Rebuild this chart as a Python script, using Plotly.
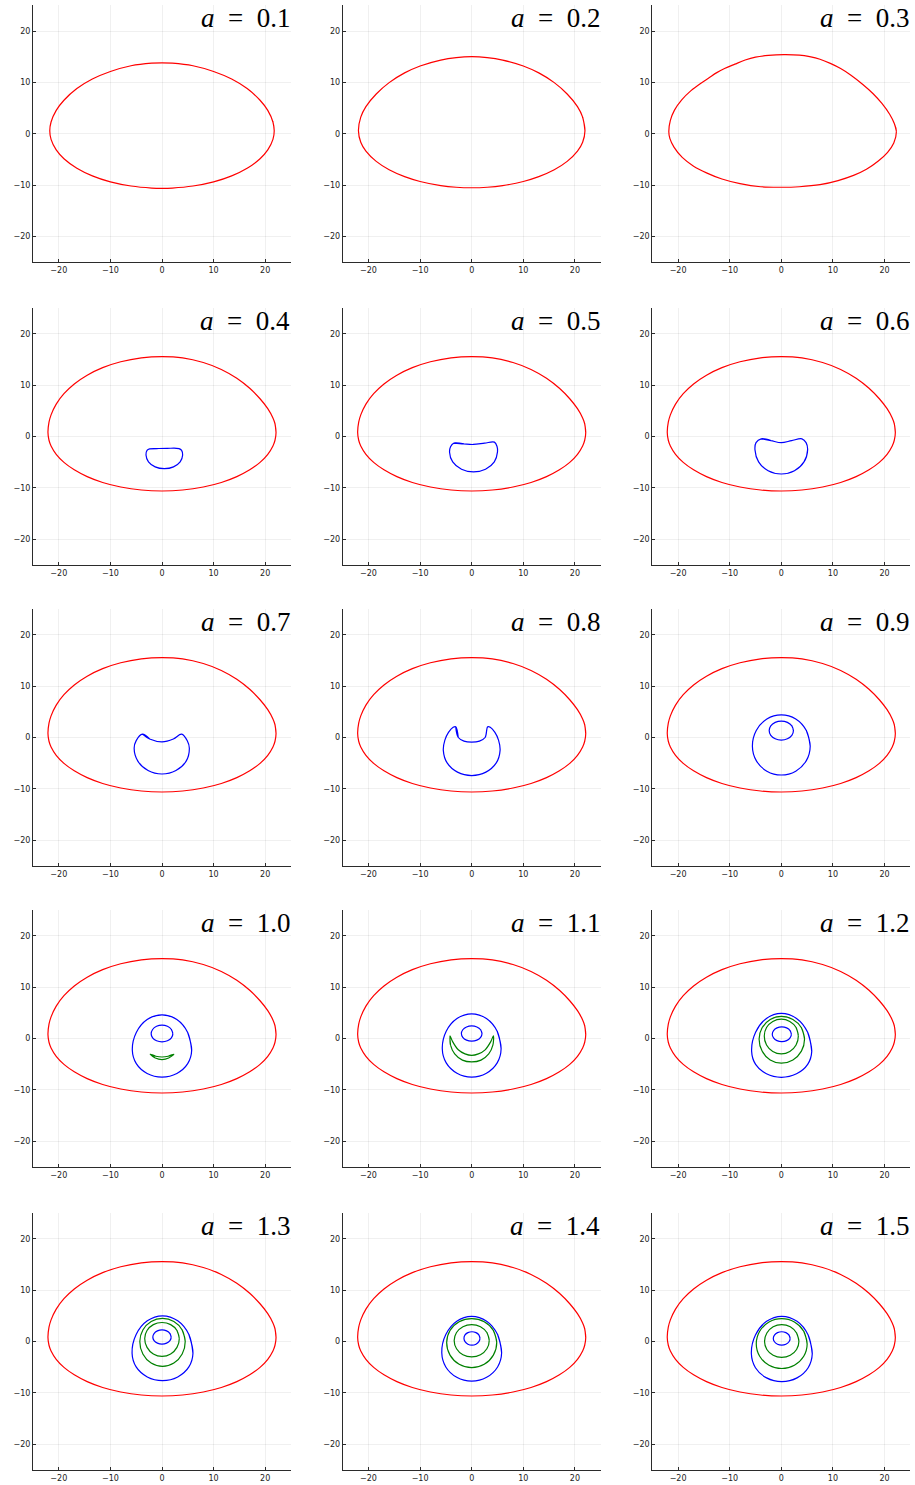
import plotly.graph_objects as go

# ---- values read per panel: closed curves as (x, y) point lists ----
A_VALUES = [0.1, 0.2, 0.3, 0.4, 0.5, 0.6, 0.7, 0.8, 0.9, 1.0, 1.1, 1.2, 1.3, 1.4, 1.5]
TICKS = [-20, -10, 0, 10, 20]

RED_A01 = [(21.75, 0.6), (21.5, 2.3), (20.5, 4.56), (19.0, 6.53), (16.5, 8.8), (13.5, 10.65),
           (10.0, 12.12), (6.0, 13.24), (2.0, 13.74), (0.0, 13.8), (-2.0, 13.74), (-6.0, 13.24),
           (-10.0, 12.12), (-13.5, 10.65), (-16.5, 8.8), (-19.0, 6.53), (-20.5, 4.56),
           (-21.5, 2.3), (-21.75, 0.6), (-21.5, -1.09), (-20.5, -3.14), (-19.0, -4.85),
           (-16.5, -6.7), (-13.5, -8.18), (-10.0, -9.35), (-6.0, -10.16), (-2.0, -10.55),
           (0.0, -10.6), (2.0, -10.55), (6.0, -10.16), (10.0, -9.35), (13.5, -8.18),
           (16.5, -6.7), (19.0, -4.85), (20.5, -3.14), (21.5, -1.09), (21.75, 0.6)]

RED_A02 = [(21.95, 0.6), (21.5, 3.25), (20.5, 5.3), (18.5, 7.75), (16.0, 9.96), (13.0, 11.85),
           (10.0, 13.2), (6.0, 14.35), (3.0, 14.83), (0.0, 15.0), (-3.0, 14.83), (-6.0, 14.35),
           (-10.0, 13.2), (-13.0, 11.85), (-16.0, 9.96), (-18.5, 7.75), (-20.5, 5.3),
           (-21.5, 3.25), (-21.95, 0.6), (-21.5, -1.64), (-20.5, -3.37), (-18.5, -5.37),
           (-16.0, -7.0), (-13.0, -8.34), (-10.0, -9.28), (-6.0, -10.08), (-3.0, -10.4),
           (0.0, -10.5), (3.0, -10.4), (6.0, -10.08), (10.0, -9.28), (13.0, -8.34),
           (16.0, -7.0), (18.5, -5.37), (20.5, -3.37), (21.5, -1.64), (21.95, 0.6)]

RED_A03 = [(22.3, 0.5), (21.9, 2.0), (21.0, 3.8), (19.5, 5.9), (17.8, 7.8), (15.8, 9.6),
           (13.5, 11.4), (11.5, 12.7), (9.5, 13.7), (7.5, 14.5), (5.5, 15.0), (3.5, 15.3),
           (0.5, 15.4), (-2.5, 15.25), (-5.0, 14.9), (-7.0, 14.35), (-9.0, 13.55), (-11.0, 12.7),
           (-12.5, 11.9), (-14.0, 10.9), (-15.5, 9.9), (-17.5, 8.4), (-19.3, 6.6), (-20.7, 4.6),
           (-21.5, 2.6), (-21.8, 0.45), (-21.6, -0.9), (-20.8, -2.6), (-19.2, -4.6), (-17.0, -6.3),
           (-14.5, -7.6), (-11.5, -8.8), (-8.0, -9.7), (-4.0, -10.3), (0.0, -10.4), (3.5, -10.3),
           (7.5, -9.9), (11.0, -9.1), (14.0, -8.1), (16.5, -6.9), (18.8, -5.3), (20.6, -3.6),
           (21.8, -1.8), (22.3, 0.5)]

RED_MAIN = [(22.1, 0.8), (21.9, 2.48), (21.5, 3.61), (20.5, 5.41), (19.0, 7.34), (17.0, 9.38),
            (14.5, 11.33), (11.5, 13.05), (8.0, 14.4), (4.0, 15.31), (0.0, 15.55), (-4.0, 15.31),
            (-8.0, 14.55), (-11.5, 13.4), (-14.5, 11.93), (-17.0, 10.23), (-19.0, 8.34),
            (-20.5, 6.31), (-21.5, 4.21), (-21.9, 2.78), (-22.1, 0.8), (-21.9, -0.73),
            (-21.5, -1.84), (-20.5, -3.46), (-19.0, -5.03), (-17.0, -6.48), (-14.5, -7.8),
            (-11.5, -8.94), (-8.0, -9.82), (-4.0, -10.41), (0.0, -10.6), (4.0, -10.41),
            (8.0, -9.82), (11.5, -8.94), (14.5, -7.8), (17.0, -6.48), (19.0, -5.03),
            (20.5, -3.46), (21.5, -1.84), (21.9, -0.73), (22.1, 0.8)]

BLUE_A04 = [(-2.4, -2.4), (-1.0, -2.35), (1.0, -2.3), (3.3, -2.35), (3.8, -2.7), (4.0, -3.6),
            (3.52, -4.93), (2.23, -5.9), (0.45, -6.25), (-1.33, -5.9), (-2.62, -4.93),
            (-3.1, -3.6), (-2.9, -2.7), (-2.4, -2.4)]

BLUE_A05 = [(-3.5, -1.3), (-1.5, -1.45), (0.3, -1.55), (2.5, -1.3), (4.4, -1.1), (4.9, -1.9),
            (5.0, -3.0), (4.38, -4.95), (2.68, -6.38), (0.35, -6.9), (-1.98, -6.38),
            (-3.68, -4.95), (-4.3, -3.0), (-4.1, -2.0), (-3.5, -1.3)]

BLUE_A06 = [(-3.9, -0.45), (-2.0, -0.8), (0.0, -1.2), (2.0, -0.8), (4.0, -0.45), (4.8, -1.2),
            (5.1, -2.6), (4.4, -4.95), (2.55, -6.67), (0.0, -7.3), (-2.55, -6.67), (-4.4, -4.95),
            (-5.1, -2.6), (-4.9, -1.2), (-3.9, -0.45)]

BLUE_A07 = [(-3.8, 0.65), (-2.4, -0.3), (0.0, -0.85), (2.2, -0.3), (3.8, 0.65), (4.9, -0.65),
            (5.3, -2.1), (4.68, -4.6), (2.7, -6.43), (0.0, -7.1), (-2.7, -6.43), (-4.68, -4.6),
            (-5.4, -2.1), (-5.0, -0.6), (-3.8, 0.65)]

BLUE_A08 = [(-3.1, 2.1), (-2.6, 0.0), (-1.5, -0.7), (0.0, -0.9), (1.5, -0.7), (2.6, 0.0),
            (3.1, 2.1), (3.6, 2.0), (4.5, 1.0), (5.2, -0.5), (5.5, -2.5), (4.76, -4.95),
            (2.75, -6.74), (0.0, -7.4), (-2.75, -6.74), (-4.76, -4.95), (-5.5, -2.5),
            (-5.2, -0.5), (-4.5, 1.0), (-3.6, 2.0), (-3.1, 2.1)]

BLUE_A09_OUT = [(5.6, -1.7), (4.85, 1.35), (2.8, 3.6), (0.0, 4.4), (-2.8, 3.6), (-4.85, 1.35),
                (-5.6, -1.7), (-4.85, -4.5), (-2.8, -6.55), (0.0, -7.3), (2.8, -6.55),
                (4.85, -4.5), (5.6, -1.7)]
BLUE_A09_IN = [(2.35, 1.35), (2.04, 2.28), (1.18, 2.95), (0.0, 3.2), (-1.18, 2.95),
               (-2.04, 2.28), (-2.35, 1.35), (-2.04, 0.42), (-1.18, -0.25), (0.0, -0.5),
               (1.18, -0.25), (2.04, 0.42), (2.35, 1.35)]

BLUE_A10_OUT = [(5.75, -2.3), (4.98, 1.15), (2.88, 3.68), (0.0, 4.6), (-2.88, 3.68),
                (-4.98, 1.15), (-5.75, -2.3), (-4.98, -4.9), (-2.88, -6.8), (0.0, -7.5),
                (2.88, -6.8), (4.98, -4.9), (5.75, -2.3)]
BLUE_A10_IN = [(2.1, 0.9), (1.82, 1.75), (1.05, 2.37), (0.0, 2.6), (-1.05, 2.37), (-1.82, 1.75),
               (-2.1, 0.9), (-1.82, 0.13), (-1.05, -0.44), (0.0, -0.65), (1.05, -0.44),
               (1.82, 0.13), (2.1, 0.9)]
GREEN_A10 = [(-2.3, -3.05), (-1.3, -3.8), (0.0, -4.1), (1.3, -3.8), (2.3, -3.05), (1.2, -3.45),
             (0.0, -3.6), (-1.2, -3.45), (-2.3, -3.05)]

BLUE_A11_OUT = [(5.7, -2.0), (4.94, 1.4), (2.85, 3.89), (0.0, 4.8), (-2.85, 3.89), (-4.94, 1.4),
                (-5.7, -2.0), (-4.94, -4.75), (-2.85, -6.76), (0.0, -7.5), (2.85, -6.76),
                (4.94, -4.75), (5.7, -2.0)]
BLUE_A11_IN = [(2.0, 0.95), (1.73, 1.7), (1.0, 2.25), (0.0, 2.45), (-1.0, 2.25), (-1.73, 1.7),
               (-2.0, 0.95), (-1.73, 0.23), (-1.0, -0.31), (0.0, -0.5), (1.0, -0.31),
               (1.73, 0.23), (2.0, 0.95)]
GREEN_A11 = [(-4.2, 0.5), (-4.1, -1.3), (-3.3, -3.0), (-1.8, -4.2), (0.0, -4.55), (1.8, -4.2),
             (3.3, -3.0), (4.1, -1.3), (4.2, 0.5), (3.7, -0.6), (2.6, -2.2), (1.3, -3.0),
             (0.0, -3.3), (-1.3, -3.0), (-2.6, -2.2), (-3.7, -0.6), (-4.2, 0.5)]

BLUE_A12_OUT = [(5.9, -2.5), (5.11, 1.2), (2.95, 3.91), (0.0, 4.9), (-2.88, 3.91), (-4.98, 1.2),
                (-5.75, -2.5), (-4.98, -5.03), (-2.88, -6.87), (0.0, -7.55), (2.95, -6.87),
                (5.11, -5.03), (5.9, -2.5)]
GREEN_A12_OUT = [(4.5, -0.1), (3.9, 2.1), (2.25, 3.71), (0.0, 4.3), (-2.15, 3.71), (-3.72, 2.1),
                 (-4.3, -0.1), (-3.72, -2.45), (-2.15, -4.17), (0.0, -4.8), (2.25, -4.17),
                 (3.9, -2.45), (4.5, -0.1)]
GREEN_A12_IN = [(3.3, 0.5), (2.86, 2.13), (1.65, 3.31), (0.0, 3.75), (-1.65, 3.31), (-2.86, 2.13),
                (-3.3, 0.5), (-2.86, -1.25), (-1.65, -2.53), (0.0, -3.0), (1.65, -2.53),
                (2.86, -1.25), (3.3, 0.5)]
BLUE_A12_IN = [(1.95, 0.85), (1.7, 1.55), (1.03, 2.06), (0.1, 2.25), (-0.83, 2.06), (-1.5, 1.55),
               (-1.75, 0.85), (-1.5, 0.13), (-0.83, -0.41), (0.1, -0.6), (1.03, -0.41),
               (1.7, 0.13), (1.95, 0.85)]

BLUE_A13_OUT = [(6.0, -2.3), (5.21, 1.35), (3.05, 4.02), (0.1, 5.0), (-2.85, 4.02), (-5.01, 1.35),
                (-5.8, -2.3), (-5.01, -4.95), (-2.85, -6.89), (0.1, -7.6), (3.05, -6.89),
                (5.21, -4.95), (6.0, -2.3)]
GREEN_A13_OUT = [(4.5, 0.0), (3.91, 2.25), (2.3, 3.9), (0.1, 4.5), (-2.1, 3.9), (-3.71, 2.25),
                 (-4.3, 0.0), (-3.71, -2.43), (-2.1, -4.2), (0.1, -4.85), (2.3, -4.2),
                 (3.91, -2.43), (4.5, 0.0)]
GREEN_A13_IN = [(3.35, 0.6), (2.9, 2.15), (1.68, 3.28), (0.0, 3.7), (-1.68, 3.28), (-2.9, 2.15),
                (-3.35, 0.6), (-2.9, -1.15), (-1.68, -2.43), (0.0, -2.9), (1.68, -2.43),
                (2.9, -1.15), (3.35, 0.6)]
BLUE_A13_IN = [(1.78, 0.85), (1.54, 1.55), (0.89, 2.06), (0.0, 2.25), (-0.89, 2.06),
               (-1.54, 1.55), (-1.78, 0.85), (-1.54, 0.18), (-0.89, -0.32), (0.0, -0.5),
               (0.89, -0.32), (1.54, 0.18), (1.78, 0.85)]

BLUE_A14_OUT = [(5.8, -2.2), (5.02, 1.35), (2.9, 3.95), (0.0, 4.9), (-2.9, 3.95), (-5.02, 1.35),
                (-5.8, -2.2), (-5.02, -4.95), (-2.9, -6.96), (0.0, -7.7), (2.9, -6.96),
                (5.02, -4.95), (5.8, -2.2)]
GREEN_A14_OUT = [(4.85, -0.2), (4.2, 2.13), (2.43, 3.83), (0.0, 4.45), (-2.43, 3.83),
                 (-4.2, 2.13), (-4.85, -0.2), (-4.2, -2.65), (-2.43, -4.44), (0.0, -5.1),
                 (2.43, -4.44), (4.2, -2.65), (4.85, -0.2)]
GREEN_A14_IN = [(3.4, 0.2), (2.94, 1.75), (1.7, 2.88), (0.0, 3.3), (-1.7, 2.88), (-2.94, 1.75),
                (-3.4, 0.2), (-2.94, -1.4), (-1.7, -2.57), (0.0, -3.0), (1.7, -2.57),
                (2.94, -1.4), (3.4, 0.2)]
BLUE_A14_IN = [(1.6, 0.65), (1.39, 1.28), (0.83, 1.73), (0.05, 1.9), (-0.73, 1.73),
               (-1.29, 1.28), (-1.5, 0.65), (-1.29, -0.03), (-0.73, -0.52), (0.05, -0.7),
               (0.83, -0.52), (1.39, -0.03), (1.6, 0.65)]

BLUE_A15_OUT = [(6.0, -2.4), (5.21, 1.25), (3.05, 3.92), (0.1, 4.9), (-2.85, 3.92), (-5.01, 1.25),
                (-5.8, -2.4), (-5.01, -5.1), (-2.85, -7.08), (0.1, -7.8), (3.05, -7.08),
                (5.21, -5.1), (6.0, -2.4)]
GREEN_A15_OUT = [(5.01, -0.5), (4.35, 1.98), (2.54, 3.79), (0.08, 4.45), (-2.38, 3.79),
                 (-4.19, 1.98), (-4.85, -0.5), (-4.19, -2.88), (-2.38, -4.61), (0.08, -5.25),
                 (2.54, -4.61), (4.35, -2.88), (5.01, -0.5)]
GREEN_A15_IN = [(3.41, 0.0), (2.96, 1.65), (1.74, 2.86), (0.08, 3.3), (-1.58, 2.86),
                (-2.8, 1.65), (-3.25, 0.0), (-2.8, -1.55), (-1.58, -2.68), (0.08, -3.1),
                (1.74, -2.68), (2.96, -1.55), (3.41, 0.0)]
BLUE_A15_IN = [(1.71, 0.6), (1.49, 1.25), (0.89, 1.73), (0.08, 1.9), (-0.73, 1.73),
               (-1.33, 1.25), (-1.55, 0.6), (-1.33, -0.05), (-0.73, -0.53), (0.08, -0.7),
               (0.89, -0.53), (1.49, -0.05), (1.71, 0.6)]

RED, BLUE, GREEN = "#ff0000", "#0000ff", "#008000"

PANEL_CURVES = [
    [(RED, RED_A01)],
    [(RED, RED_A02)],
    [(RED, RED_A03)],
    [(RED, RED_MAIN), (BLUE, BLUE_A04)],
    [(RED, RED_MAIN), (BLUE, BLUE_A05)],
    [(RED, RED_MAIN), (BLUE, BLUE_A06)],
    [(RED, RED_MAIN), (BLUE, BLUE_A07)],
    [(RED, RED_MAIN), (BLUE, BLUE_A08)],
    [(RED, RED_MAIN), (BLUE, BLUE_A09_OUT), (BLUE, BLUE_A09_IN)],
    [(RED, RED_MAIN), (BLUE, BLUE_A10_OUT), (BLUE, BLUE_A10_IN), (GREEN, GREEN_A10)],
    [(RED, RED_MAIN), (BLUE, BLUE_A11_OUT), (BLUE, BLUE_A11_IN), (GREEN, GREEN_A11)],
    [(RED, RED_MAIN), (BLUE, BLUE_A12_OUT), (GREEN, GREEN_A12_OUT), (GREEN, GREEN_A12_IN),
     (BLUE, BLUE_A12_IN)],
    [(RED, RED_MAIN), (BLUE, BLUE_A13_OUT), (GREEN, GREEN_A13_OUT), (GREEN, GREEN_A13_IN),
     (BLUE, BLUE_A13_IN)],
    [(RED, RED_MAIN), (BLUE, BLUE_A14_OUT), (GREEN, GREEN_A14_OUT), (GREEN, GREEN_A14_IN),
     (BLUE, BLUE_A14_IN)],
    [(RED, RED_MAIN), (BLUE, BLUE_A15_OUT), (GREEN, GREEN_A15_OUT), (GREEN, GREEN_A15_IN),
     (BLUE, BLUE_A15_IN)],
]

# ---- page geometry (pixels) ----
W, H = 915, 1485
COL_LEFT = [33.0, 342.7, 652.3]
ROW_BOTTOM = [262.3, 565.0, 866.0, 1167.0, 1470.0]
PANEL_W, PANEL_H = 258.0, 257.0

fig = go.Figure()
annotations = []
axis_common = dict(
    range=[-25, 25], tickmode="array", tickvals=TICKS,
    showgrid=True, gridcolor="rgba(0,0,0,0.06)", gridwidth=0.6,
    zeroline=False, showline=True, linecolor="#2b2b2b", linewidth=1,
    ticks="inside", ticklen=3, tickcolor="#2b2b2b", tickwidth=1,
    tickfont=dict(family="DejaVu Sans", size=8, color="#222222"),
    fixedrange=True, mirror=False,
)

for i, (a, curves) in enumerate(zip(A_VALUES, PANEL_CURVES)):
    r, c = divmod(i, 3)
    n = i + 1
    sfx = "" if n == 1 else str(n)
    left = COL_LEFT[c]
    bottom = ROW_BOTTOM[r]
    top = bottom - PANEL_H
    xdom = [left / W, (left + PANEL_W) / W]
    ydom = [1 - bottom / H, 1 - top / H]

    fig.layout["xaxis" + sfx] = dict(axis_common, domain=xdom, anchor="y" + sfx,
                                     side="bottom")
    fig.layout["yaxis" + sfx] = dict(axis_common, domain=ydom, anchor="x" + sfx,
                                     side="left")

    for color, pts in curves:
        # closed path; the second point is repeated so the join is smooth
        xs = [p[0] for p in pts] + [pts[1][0]]
        ys = [p[1] for p in pts] + [pts[1][1]]
        fig.add_trace(go.Scatter(
            x=xs, y=ys, mode="lines",
            line=dict(color=color, width=1.2, shape="spline", smoothing=1.0),
            xaxis="x" + sfx, yaxis="y" + sfx, hoverinfo="skip", showlegend=False,
        ))

    annotations.append(dict(
        xref="paper", yref="paper",
        x=(left + PANEL_W + 1) / W, y=1 - (top + 12.5) / H,
        xanchor="right", yanchor="middle", showarrow=False,
        text="<i>a</i>\u00a0\u00a0=\u00a0\u00a0" + f"{a:.1f}",
        font=dict(family="Liberation Serif", size=27, color="#000000"),
    ))

fig.update_layout(
    width=W, height=H, margin=dict(l=0, r=0, t=0, b=0),
    paper_bgcolor="white", plot_bgcolor="white",
    showlegend=False, annotations=annotations,
)

fig.write_html("out.html")
